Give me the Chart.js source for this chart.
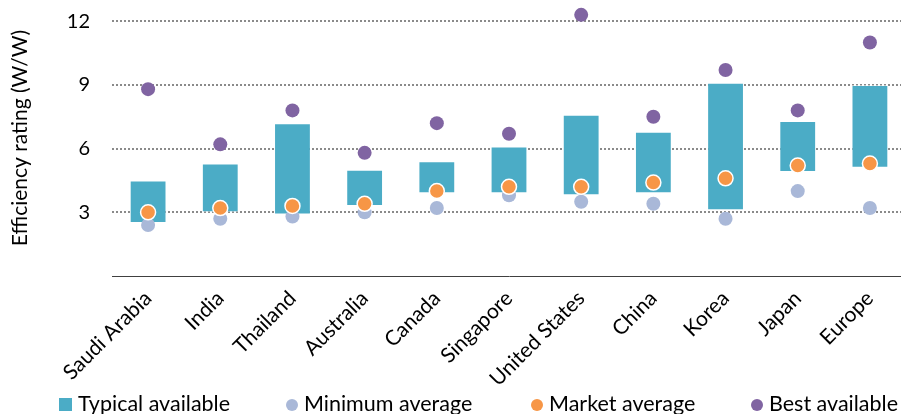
<!DOCTYPE html>
<html>
<head>
<meta charset="utf-8">
<script src="https://cdn.jsdelivr.net/npm/chart.js@4/dist/chart.umd.min.js"></script>
<style>
  html, body { margin: 0; padding: 0; background: #fff; overflow: hidden; }
  #wrap { position: relative; width: 901px; height: 414px; overflow: hidden; }
  #legend { position: absolute; left: 0; top: 390px; width: 901px; height: 26px;
    font-family: Lato, sans-serif; font-size: 21.5px; color: #000; }
  #legend .item { position: absolute; top: 0; line-height: 26px; white-space: nowrap; }
  #legend .mark { display: inline-block; vertical-align: middle; margin-right: 6px; position: relative; top: -1px; }
</style>
</head>
<body>
<div id="wrap">
  <canvas id="myChart" width="906" height="414"></canvas>
  <div id="legend"></div>
</div>
<script>
var countries = ["Saudi Arabia", "India", "Thailand", "Australia", "Canada", "Singapore",
  "United States", "China", "Korea", "Japan", "Europe"];
var typicalLow  = [2.5, 3.0, 2.9, 3.3, 3.9, 3.9, 3.8, 3.9, 3.1, 4.9, 5.1];
var typicalHigh = [4.5, 5.3, 7.2, 5.0, 5.4, 6.1, 7.6, 6.8, 9.1, 7.3, 9.0];
var minimumAvg  = [2.4, 2.7, 2.8, 3.0, 3.2, 3.8, 3.5, 3.4, 2.7, 4.0, 3.2];
var marketAvg   = [3.0, 3.2, 3.3, 3.4, 4.0, 4.2, 4.2, 4.4, 4.6, 5.2, 5.3];
var bestAvail   = [8.8, 6.2, 7.8, 5.8, 7.2, 6.7, 12.3, 7.5, 9.7, 7.8, 11.0];
var yTicks = [3, 6, 9, 12];

var colors = {
  typical: "#4bacc6",
  minimum: "#a9b8d8",
  market: "#f79646",
  best: "#8064a2"
};

var ctx = document.getElementById("myChart").getContext("2d");
var chart = new Chart(ctx, {
  type: "bar",
  data: {
    labels: countries,
    datasets: [
      {
        label: "Typical available",
        data: typicalLow.map((lo, i) => [lo, typicalHigh[i]]),
        backgroundColor: colors.typical,
        borderColor: "rgba(255,255,255,0.55)",
        borderWidth: 1,
        borderSkipped: false,
        categoryPercentage: 1,
        barPercentage: 0.51,
        order: 4
      },
      {
        type: "line",
        label: "Minimum average",
        data: minimumAvg,
        showLine: false,
        backgroundColor: colors.minimum,
        borderColor: colors.minimum,
        pointRadius: 7,
        pointBorderWidth: 0,
        order: 3
      },
      {
        type: "line",
        label: "Market average",
        data: marketAvg,
        showLine: false,
        backgroundColor: colors.market,
        borderColor: "#ffffff",
        pointBackgroundColor: colors.market,
        pointBorderColor: "#ffffff",
        pointRadius: 7.5,
        pointBorderWidth: 1.5,
        order: 2
      },
      {
        type: "line",
        label: "Best available",
        data: bestAvail,
        showLine: false,
        backgroundColor: colors.best,
        borderColor: colors.best,
        pointRadius: 7,
        pointBorderWidth: 0,
        order: 1
      }
    ]
  },
  options: {
    responsive: false,
    animation: false,
    devicePixelRatio: 1,
    layout: { padding: 0, autoPadding: false },
    plugins: {
      legend: { display: false },
      tooltip: { enabled: false }
    },
    scales: {
      x: {
        grid: { display: false },
        border: { display: true, color: "#404040", width: 1 },
        ticks: {
          color: "#000",
          font: { family: "Lato", size: 21 },
          maxRotation: 45,
          minRotation: 45,
          padding: 2
        },
        afterFit: function (scale) { scale.height = 138; scale.paddingLeft = 0; scale.paddingRight = 0; }
      },
      y: {
        min: 0,
        max: 13,
        afterBuildTicks: function (scale) {
          scale.ticks = yTicks.map((v) => ({ value: v }));
        },
        grid: {
          color: "#8a8a8a",
          lineWidth: 2,
          drawTicks: false
        },
        border: { display: false, dash: [2, 2] },
        ticks: {
          color: "#000",
          font: { family: "Lato", size: 20 },
          padding: 22
        },
        title: {
          display: true,
          text: "Efficiency rating (W/W)",
          color: "#000",
          font: { family: "Lato", size: 21 },
          padding: { top: 8, bottom: 0 }
        },
        afterFit: function (scale) { scale.width = 112; scale.paddingTop = 0; scale.paddingBottom = 0; }
      }
    }
  }
});

// legend below the chart
var legendItems = [
  { text: "Typical available", color: colors.typical, shape: "square", left: 59 },
  { text: "Minimum average", color: colors.minimum, shape: "circle", left: 286 },
  { text: "Market average", color: colors.market, shape: "circle", left: 531 },
  { text: "Best available", color: colors.best, shape: "circle", left: 751 }
];
var legendEl = document.getElementById("legend");
legendItems.forEach(function (item) {
  var div = document.createElement("div");
  div.className = "item";
  div.style.left = item.left + "px";
  var size = item.shape === "square" ? 13 : 12;
  div.innerHTML = '<span class="mark" style="width:' + size + 'px;height:' + size + 'px;background:' +
    item.color + ';border-radius:' + (item.shape === "circle" ? "50%" : "0") + '"></span>' + item.text;
  legendEl.appendChild(div);
});
</script>
</body>
</html>
